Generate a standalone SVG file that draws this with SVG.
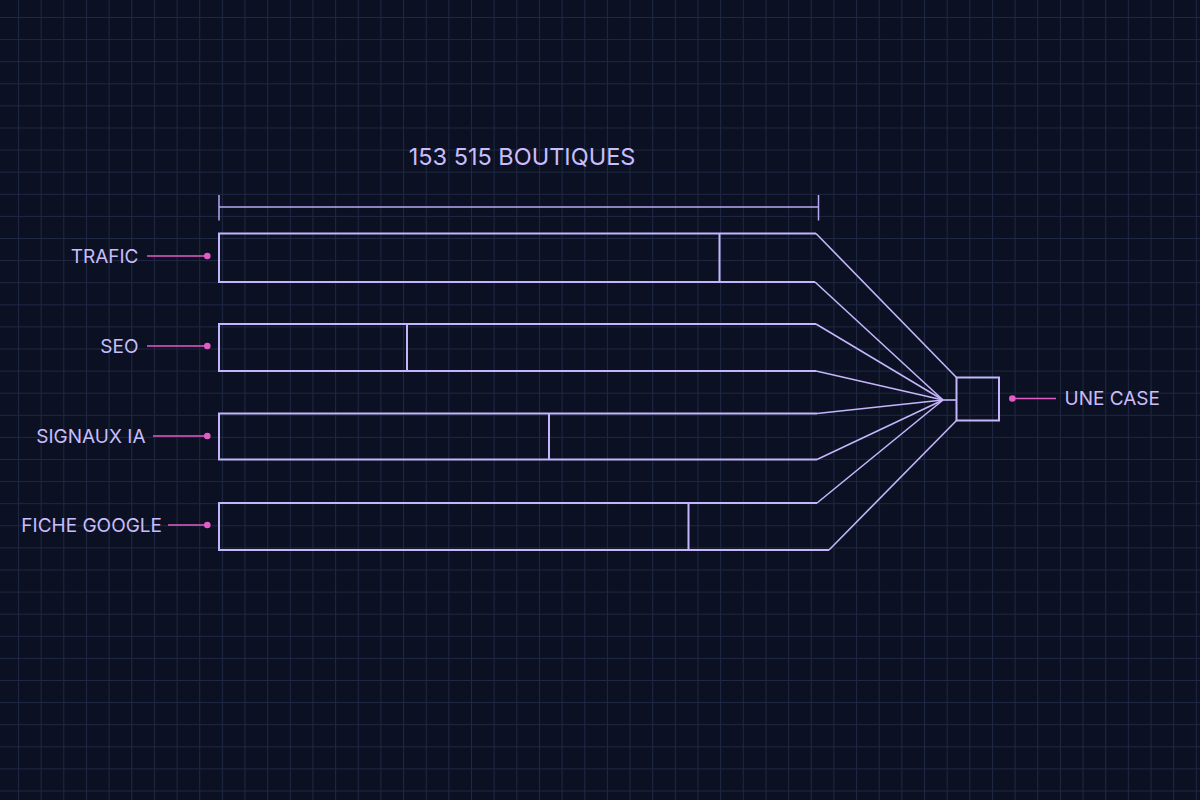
<svg xmlns="http://www.w3.org/2000/svg" width="1200" height="800" viewBox="0 0 1200 800">
  <defs>
    <pattern id="grid" patternUnits="userSpaceOnUse" x="18" y="17" width="22.65" height="22.1">
      <path d="M0.5 0 V22.1 M0 0.5 H22.65" fill="none" stroke="#1e2842" stroke-width="1"/>
    </pattern>
    <style>
      .bar { fill: none; stroke: #c4b5fd; stroke-width: 2; stroke-linejoin: miter; }
      .ln { fill: none; stroke: #c4b5fd; stroke-width: 1.6; }
      .dim { fill: none; stroke: #b9a8f5; stroke-width: 1.5; }
      .lead { stroke: #e25cc8; stroke-width: 1.6; }
      .dot { fill: #e25cc8; }
      .lbl { font-family: Inter, "Liberation Sans", sans-serif; font-size: 19px; fill: #c9bdfb; }
      .title { font-family: Inter, "Liberation Sans", sans-serif; font-size: 23.5px; fill: #c9bdfb; }
    </style>
  </defs>
  <rect width="1200" height="800" fill="#0b1122"/>
  <rect width="1200" height="800" fill="url(#grid)"/>

  <g id="dimension">
    <text class="title" x="522" y="164.5" text-anchor="middle">153 515 BOUTIQUES</text>
    <path class="dim" d="M219 207 H818.5 M219 195 V220.5 M818.5 195 V220.5"/>
  </g>

  <g id="bar-trafic">
    <path class="bar" d="M816 233.5 H219 V282 H815"/>
    <line class="bar" x1="719.5" y1="233.5" x2="719.5" y2="282"/>
  </g>
  <g id="bar-seo">
    <path class="bar" d="M816 324 H219 V371 H816"/>
    <line class="bar" x1="407" y1="324" x2="407" y2="371"/>
  </g>
  <g id="bar-signaux">
    <path class="bar" d="M817 413.5 H219 V459.5 H817"/>
    <line class="bar" x1="549" y1="413.5" x2="549" y2="459.5"/>
  </g>
  <g id="bar-fiche">
    <path class="bar" d="M817 503 H219 V550 H829"/>
    <line class="bar" x1="688.5" y1="503" x2="688.5" y2="550"/>
  </g>

  <g id="une-case">
    <rect class="bar" x="956.5" y="377.5" width="42.5" height="43"/>
  </g>

  <g id="connectors">
    <path class="ln" d="M816 233.5 L956.5 377.5"/>
    <path class="ln" d="M815 282 L943 400"/>
    <path class="ln" d="M816 324 L943 400"/>
    <path class="ln" d="M816 371 L943 400"/>
    <path class="ln" d="M817 413.5 L943 400"/>
    <path class="ln" d="M817 459.5 L943 400"/>
    <path class="ln" d="M817 503 L943 400"/>
    <path class="ln" d="M829 550 L956.5 420.5"/>
    <path class="ln" d="M943 400 H956.5"/>
    <line class="lead" x1="147" y1="256" x2="207" y2="256"/>
    <line class="lead" x1="147" y1="346" x2="207" y2="346"/>
    <line class="lead" x1="153" y1="436" x2="207" y2="436"/>
    <line class="lead" x1="168" y1="525" x2="207" y2="525"/>
    <line class="lead" x1="1012" y1="398.5" x2="1056" y2="398.5"/>
  </g>

  <g id="label-trafic">
    <text class="lbl" x="138.5" y="262.7" text-anchor="end">TRAFIC</text>
    <circle class="dot" cx="207.3" cy="256" r="3.3"/>
  </g>
  <g id="label-seo">
    <text class="lbl" x="138.5" y="352.7" text-anchor="end">SEO</text>
    <circle class="dot" cx="207.3" cy="346" r="3.3"/>
  </g>
  <g id="label-signaux">
    <text class="lbl" x="145.5" y="442.7" text-anchor="end">SIGNAUX IA</text>
    <circle class="dot" cx="207.3" cy="436" r="3.3"/>
  </g>
  <g id="label-fiche">
    <text class="lbl" x="162" y="531.7" text-anchor="end">FICHE GOOGLE</text>
    <circle class="dot" cx="207.3" cy="525" r="3.3"/>
  </g>
  <g id="label-une-case">
    <circle class="dot" cx="1012.3" cy="398.5" r="3.3"/>
    <text class="lbl" x="1064.5" y="405">UNE CASE</text>
  </g>
</svg>
